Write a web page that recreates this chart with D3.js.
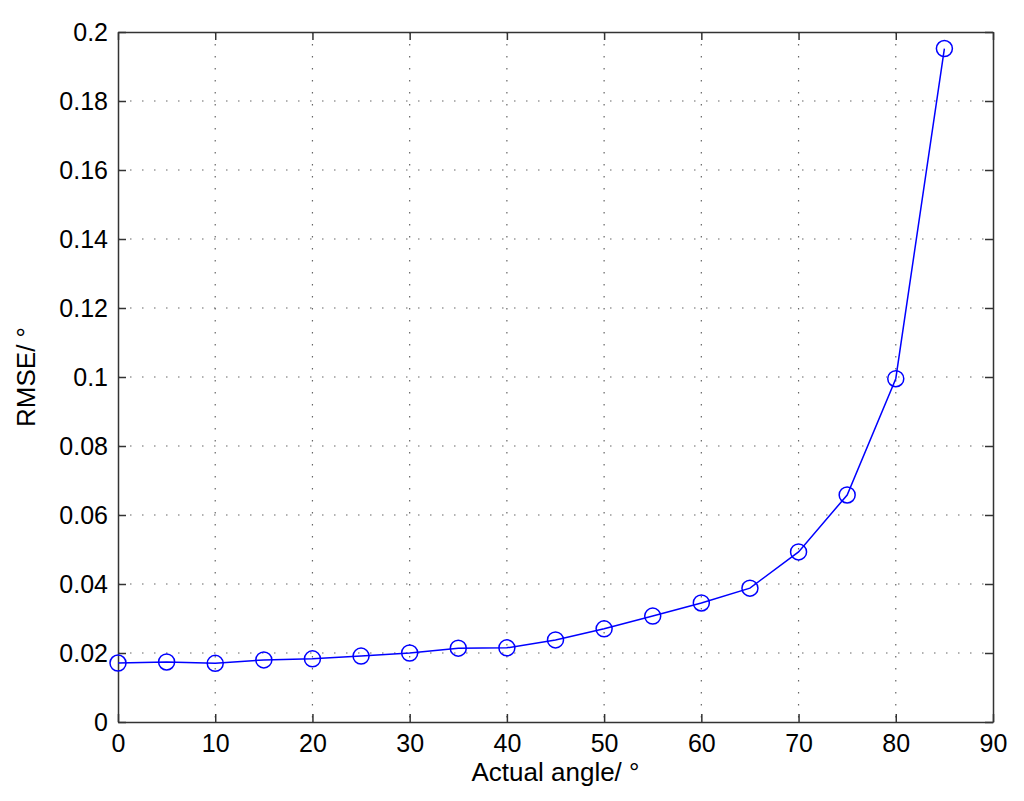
<!DOCTYPE html>
<html>
<head>
<meta charset="utf-8">
<script src="https://cdn.jsdelivr.net/npm/d3@7"></script>
<style>
  body { margin: 0; background: #fff; }
  svg { font-family: "Liberation Sans", Arial, sans-serif; }
</style>
</head>
<body>
<svg id="chart" width="1024" height="801"></svg>
<script>
// data
const angles = [0, 5, 10, 15, 20, 25, 30, 35, 40, 45, 50, 55, 60, 65, 70, 75, 80, 85];
const rmse = [0.0171, 0.0174, 0.0170, 0.0180, 0.0183, 0.0191, 0.0200, 0.0214, 0.0215, 0.0238,
              0.0270, 0.0307, 0.0345, 0.0388, 0.0493, 0.0658, 0.0995, 0.1952];
const xTicks = [0, 10, 20, 30, 40, 50, 60, 70, 80, 90];
const yTicks = [0, 0.02, 0.04, 0.06, 0.08, 0.1, 0.12, 0.14, 0.16, 0.18, 0.2];

const data = angles.map((a, i) => ({ a: a, v: rmse[i] }));

const svg = d3.select("#chart"),
      margin = {top: 32, right: 31, bottom: 79, left: 118},
      width = +svg.attr("width") - margin.left - margin.right,
      height = +svg.attr("height") - margin.top - margin.bottom;

const g = svg.append("g")
  .attr("transform", `translate(${margin.left},${margin.top})`);

const x = d3.scaleLinear().domain([0, 90]).range([0, width]);
const y = d3.scaleLinear().domain([0, 0.2]).range([height, 0]);

// grid (dotted, matlab style)
g.append("g").selectAll("line")
  .data(xTicks.slice(1, -1))
  .enter().append("line")
    .attr("x1", d => x(d)).attr("x2", d => x(d))
    .attr("y1", 0).attr("y2", height)
    .attr("stroke", "#666").attr("stroke-width", 1.2)
    .attr("stroke-dasharray", "1.5,10.5");

g.append("g").selectAll("line")
  .data(yTicks.slice(1, -1))
  .enter().append("line")
    .attr("y1", d => y(d)).attr("y2", d => y(d))
    .attr("x1", 0).attr("x2", width)
    .attr("stroke", "#666").attr("stroke-width", 1.2)
    .attr("stroke-dasharray", "1.5,10.5");

// axes (ticks pointing inward, mirrored on top/right)
const tickLen = 8;
const styleAxis = sel => {
  sel.select(".domain").attr("stroke", "#333").attr("stroke-width", 1.5);
  sel.selectAll(".tick line").attr("stroke", "#333").attr("stroke-width", 1.5);
  sel.selectAll("text").style("font-size", "25px").attr("fill", "#000");
};

g.append("g")
  .attr("transform", `translate(0,${height})`)
  .call(d3.axisBottom(x).tickValues(xTicks).tickSize(-tickLen).tickPadding(12).tickSizeOuter(0))
  .call(styleAxis);

g.append("g")
  .call(d3.axisLeft(y).tickValues(yTicks).tickFormat(d3.format("~g")).tickSize(-tickLen).tickPadding(10).tickSizeOuter(0))
  .call(styleAxis);

g.append("g")
  .call(d3.axisTop(x).tickValues(xTicks).tickSize(-tickLen).tickFormat("").tickSizeOuter(0))
  .call(styleAxis);

g.append("g")
  .attr("transform", `translate(${width},0)`)
  .call(d3.axisRight(y).tickValues(yTicks).tickSize(-tickLen).tickFormat("").tickSizeOuter(0))
  .call(styleAxis);

// line + markers
g.append("path")
  .datum(data)
  .attr("fill", "none")
  .attr("stroke", "#0000ff")
  .attr("stroke-width", 1.5)
  .attr("d", d3.line().x(d => x(d.a)).y(d => y(d.v)));

g.selectAll(".dot")
  .data(data)
  .enter().append("circle")
    .attr("cx", d => x(d.a))
    .attr("cy", d => y(d.v))
    .attr("r", 8)
    .attr("fill", "none")
    .attr("stroke", "#0000ff")
    .attr("stroke-width", 1.5);

// labels
svg.append("text")
  .attr("x", margin.left + width / 2)
  .attr("y", 781)
  .attr("text-anchor", "middle")
  .style("font-size", "26px")
  .text("Actual angle/ \u00b0");

svg.append("text")
  .attr("transform", `translate(35,${margin.top + height / 2}) rotate(-90)`)
  .attr("text-anchor", "middle")
  .style("font-size", "26px")
  .text("RMSE/ \u00b0");
</script>
</body>
</html>
